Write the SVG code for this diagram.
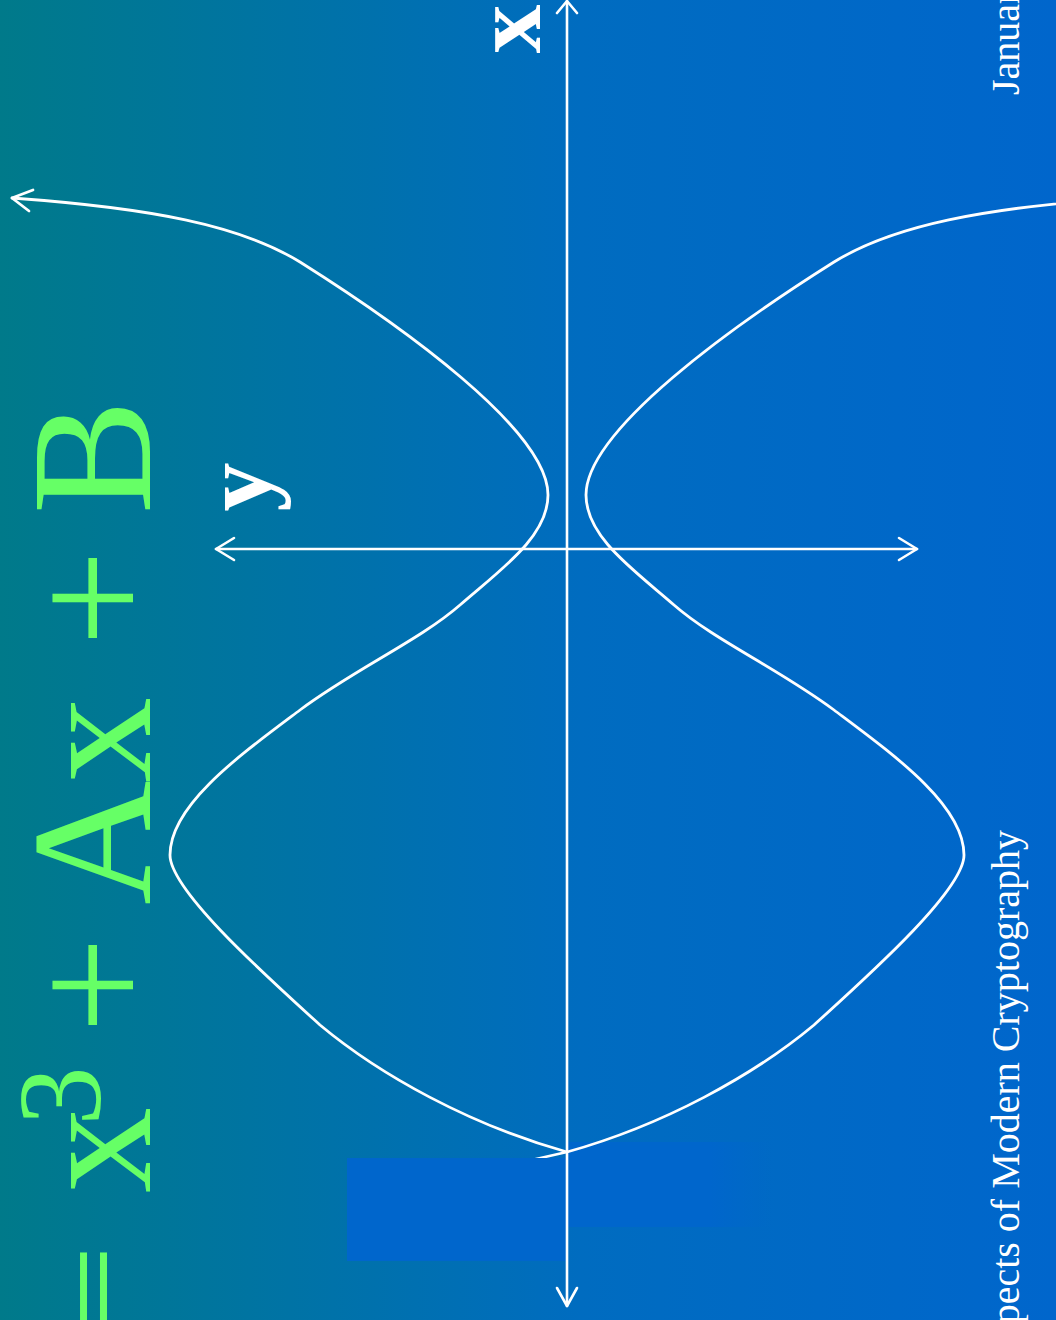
<svg xmlns="http://www.w3.org/2000/svg" width="1056" height="1320" viewBox="0 0 1056 1320">
<defs>
<linearGradient id="bg" x1="0" y1="0" x2="1" y2="0">
<stop offset="0" stop-color="#007a8a"/>
<stop offset="0.55" stop-color="#006cc0"/>
<stop offset="1" stop-color="#0066cc"/>
</linearGradient>
<linearGradient id="rfade" x1="0" y1="0" x2="1" y2="0">
<stop offset="0" stop-color="#0066cc" stop-opacity="1"/>
<stop offset="0.7" stop-color="#0066cc" stop-opacity="1"/>
<stop offset="1" stop-color="#0066cc" stop-opacity="0"/>
</linearGradient>
<style>
.ln{fill:none;stroke:#ffffff;stroke-width:2.6;stroke-linecap:round;stroke-linejoin:round}
.cv{fill:none;stroke:#ffffff;stroke-width:2.8;stroke-linecap:round;stroke-linejoin:round}
.eq{font-family:"Liberation Serif","DejaVu Serif",serif;fill:#66ff66;font-size:172px}
.lab{font-family:"Liberation Serif","DejaVu Serif",serif;fill:#ffffff;font-weight:bold;font-size:98px}
.foot{font-family:"Liberation Serif","DejaVu Serif",serif;fill:#ffffff;font-size:40px}
</style>
</defs>
<rect x="0" y="0" width="1056" height="1320" fill="url(#bg)"/>
<rect id="mask-right" x="567" y="1142" width="205" height="85" fill="url(#rfade)"/>
<g id="connectors">
<path id="curve-left" class="cv" d="M12,198 C150,208 240,225 300,262 C400,325 548,430 548,495 C548,537 500,570 460,605 C420,640 355,669 300,710 C240,755 170,805 170,855 C170,890 265,975 320,1025 C380,1075 470,1125 567,1152"/>
<polyline id="curve-arrow" class="cv" points="33,190 12,198 29,211"/>
<path id="curve-right" class="cv" transform="translate(1134,0) scale(-1,1)" d="M12,198 C150,208 240,225 300,262 C400,325 548,430 548,495 C548,537 500,570 460,605 C420,640 355,669 300,710 C240,755 170,805 170,855 C170,890 265,975 320,1025 C380,1075 470,1125 567,1152 L620,1164"/>
</g>
<rect id="mask-left" x="347" y="1158" width="220" height="103" fill="#0066cc"/>
<g id="axes">
<g id="x-axis">
<line class="ln" x1="567" y1="1" x2="567" y2="1306"/>
<polyline class="ln" points="557,13 567,1 577,13"/>
<polyline class="ln" points="557,1288 567,1306 577,1288"/>
</g>
<g id="y-axis">
<line class="ln" x1="216" y1="549" x2="917" y2="549"/>
<polyline class="ln" points="234,538 216,549 234,560"/>
<polyline class="ln" points="899,538 917,549 899,560"/>
</g>
</g>
<g id="label-x"><text class="lab" text-anchor="middle" transform="translate(540,29) rotate(-90)">x</text></g>
<g id="label-y"><text class="lab" text-anchor="middle" transform="translate(270,487) rotate(-90)">y</text></g>
<g id="equation">
<text class="eq" text-anchor="middle" font-weight="bold" transform="translate(127,0) rotate(-90) scale(1,0.575)" x="-1292" y="0">=</text>
<text class="eq" text-anchor="middle" transform="translate(150,0) rotate(-90)"><tspan x="-1150" y="0">x</tspan><tspan x="-1096" y="-50" font-size="118">3</tspan><tspan x="-985" y="0">+</tspan><tspan x="-843" y="0">A</tspan><tspan x="-740" y="0">x</tspan><tspan x="-598" y="0">+</tspan><tspan x="-457" y="0">B</tspan></text>
</g>
<g id="footer">
<text class="foot" text-anchor="end" transform="translate(1019,0) rotate(-90)" x="-830" y="0">pects of Modern Cryptography</text>
<text class="foot" transform="translate(1019,0) rotate(-90)" x="-95" y="0">Januar</text>
</g>
</svg>
